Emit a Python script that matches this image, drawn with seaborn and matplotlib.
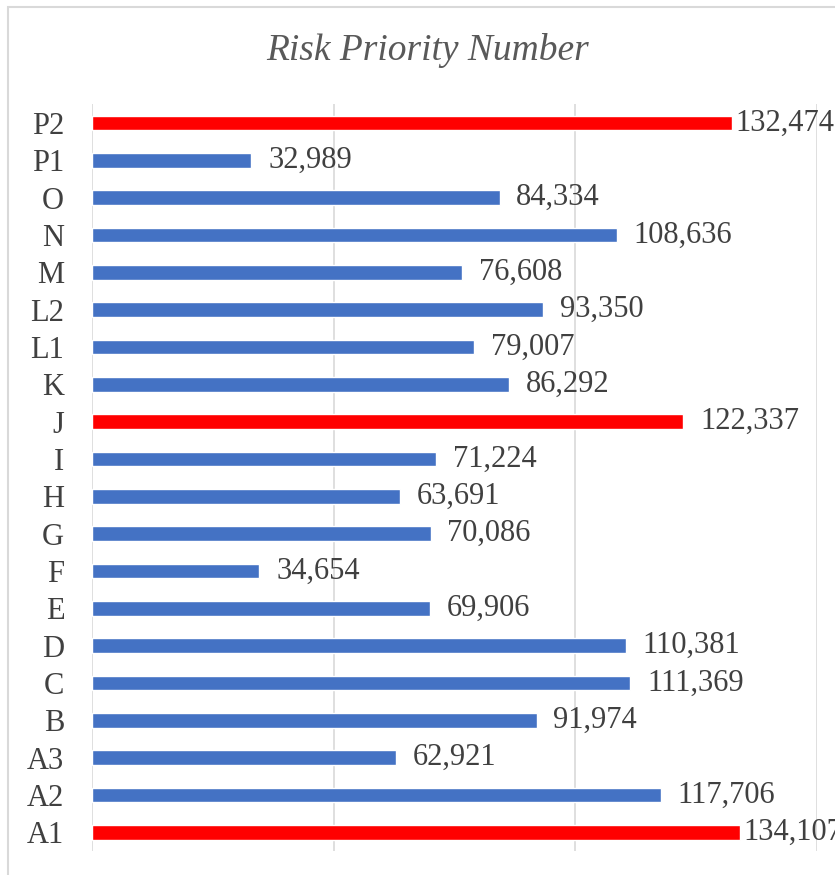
import matplotlib
matplotlib.use("Agg")
import matplotlib.pyplot as plt
import seaborn as sns
from matplotlib.patches import Rectangle

# Data (top to bottom as shown)
categories = ["P2", "P1", "O", "N", "M", "L2", "L1", "K", "J", "I",
              "H", "G", "F", "E", "D", "C", "B", "A3", "A2", "A1"]
rpn = [132474, 32989, 84334, 108636, 76608, 93350, 79007, 86292, 122337, 71224,
       63691, 70086, 34654, 69906, 110381, 111369, 91974, 62921, 117706, 134107]
highlight = ["P2", "J", "A1"]

BLUE = "#4472C4"
RED = "#FF0000"
TEXT = "#404040"

sns.set_theme(style="white")
plt.rcParams["font.family"] = ["Liberation Serif", "DejaVu Serif"]

palette = {c: (RED if c in highlight else BLUE) for c in categories}

fig = plt.figure(figsize=(8.35, 8.75), dpi=100)
ax = fig.add_axes([92 / 835, 1 - 851 / 875, 725 / 835, (851 - 104.3) / 875])

sns.barplot(x=rpn, y=categories, hue=categories, palette=palette,
            legend=False, width=0.4, orient="h", saturation=1, ax=ax)

ax.set_xlim(0, 150000)
ax.set_xticks([0, 50000, 100000, 150000])
ax.set_xticklabels([])
ax.grid(axis="x", color="#D9D9D9", linewidth=1.2)
ax.grid(axis="y", visible=False)
ax.set_axisbelow(True)
for s in ax.spines.values():
    s.set_visible(False)
ax.tick_params(axis="both", length=0)
ax.tick_params(axis="y", pad=20, labelsize=22, labelcolor=TEXT)
ax.set_xlabel("")
ax.set_ylabel("")

# data labels
for i, (c, v) in enumerate(zip(categories, rpn)):
    off = 2 if v > 130000 else 12
    ax.annotate(f"{v:,}", xy=(v, i), xytext=(off, 0), textcoords="offset points",
                va="center", ha="left", fontsize=22, color=TEXT,
                annotation_clip=False)

fig.text(0.512, 1 - 51 / 875, "Risk Priority Number", ha="center", va="center",
         fontsize=27, style="italic", color="#595959")

# chart border
fig.patches.append(Rectangle((8 / 835, -0.02), 1.1, 1 - 7 / 875 + 0.02,
                             transform=fig.transFigure, fill=False,
                             edgecolor="#D9D9D9", linewidth=1.5, zorder=0))

fig.savefig("out.png", dpi=100)
